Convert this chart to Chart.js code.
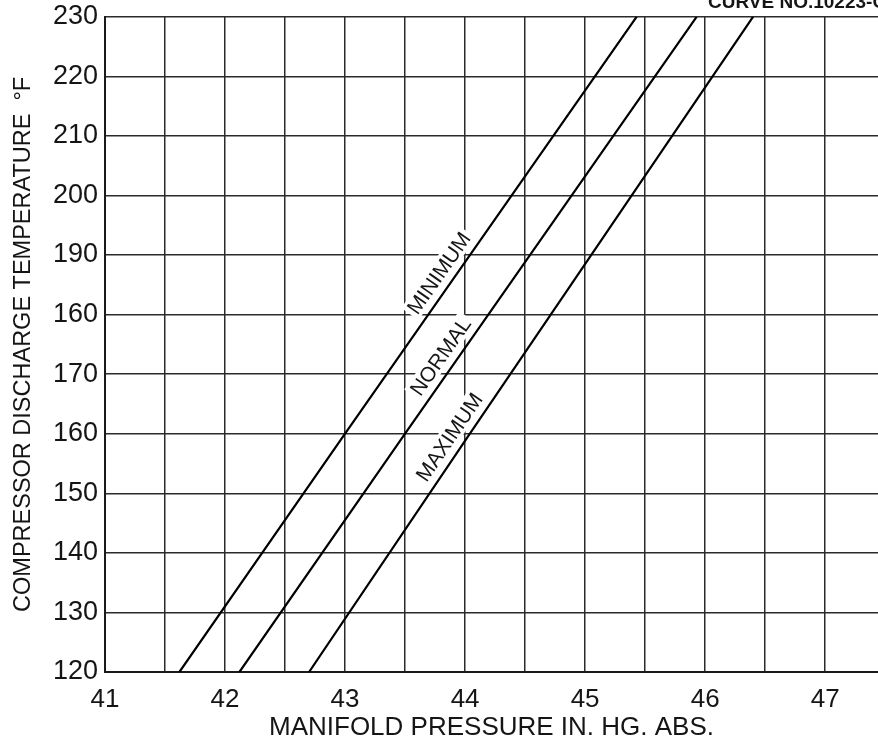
<!DOCTYPE html>
<html>
<head>
<meta charset="utf-8">
<script src="https://cdn.jsdelivr.net/npm/chart.js@4.4.1/dist/chart.umd.min.js"></script>
<style>
html,body{margin:0;padding:0;background:#fff;}
#wrap{width:878px;height:749px;position:relative;}
</style>
</head>
<body>
<div id="wrap"><canvas id="c" width="878" height="749"></canvas></div>
<script>
// ---- data ----
const seriesNames = ['MINIMUM', 'NORMAL', 'MAXIMUM'];
const minimumX = [41.62, 43.00, 45.43];
const minimumY = [120, 160, 230];
const normalX = [42.12, 43.50, 45.93];
const normalY = [120, 160, 230];
const maximumX = [42.70, 44.04, 46.40];
const maximumY = [120, 160, 230];
const labelAnchorY = [185.5, 171.5, 158];
const yTickLabels = ['120','130','140','150','160','170','160','190','200','210','220','230'];
const xTickLabels = ['41','42','43','44','45','46','47'];
const xTitle = 'MANIFOLD PRESSURE IN. HG. ABS.';
const yTitle = 'COMPRESSOR DISCHARGE TEMPERATURE  \u00B0F';
const curveNumber = 'CURVE NO.10223-C';

const FAMILY = '"Liberation Sans", Arial, Helvetica, sans-serif';
const INK = '#151515';

function toPoints(xs, ys) { return xs.map((x, i) => ({ x: x, y: ys[i] })); }
const seriesData = [toPoints(minimumX, minimumY), toPoints(normalX, normalY), toPoints(maximumX, maximumY)];

const curveLabelPlugin = {
  id: 'curveLabels',
  afterDatasetsDraw(chart) {
    const ctx = chart.ctx;
    const xs = chart.scales.x, ys = chart.scales.y;
    chart.data.datasets.forEach((ds, i) => {
      const pts = ds.data;
      const yv = labelAnchorY[i];
      let k = 0;
      while (k < pts.length - 2 && pts[k + 1].y < yv) k++;
      const a = pts[k], b = pts[k + 1];
      const t = (yv - a.y) / (b.y - a.y);
      const xv = a.x + t * (b.x - a.x);
      const px = xs.getPixelForValue(xv), py = ys.getPixelForValue(yv);
      const first = pts[0], last = pts[pts.length - 1];
      const dx = xs.getPixelForValue(last.x) - xs.getPixelForValue(first.x);
      const dy = ys.getPixelForValue(last.y) - ys.getPixelForValue(first.y);
      const len = Math.hypot(dx, dy);
      const ux = dx / len, uy = dy / len;
      const off = 15;
      const cx = px + uy * off, cy = py - ux * off;
      ctx.save();
      ctx.translate(cx, cy);
      ctx.rotate(Math.atan2(dy, dx));
      ctx.font = '21px ' + FAMILY;
      const text = ds.label;
      const w = ctx.measureText(text).width;
      ctx.fillStyle = '#fff';
      ctx.fillRect(-w / 2 - 3, -11, w + 6, 21);
      ctx.fillStyle = INK;
      ctx.textAlign = 'center';
      ctx.textBaseline = 'middle';
      ctx.fillText(text, 0, 1);
      ctx.restore();
    });
  },
  afterDraw(chart) {
    const ctx = chart.ctx;
    ctx.save();
    ctx.font = 'bold 19px ' + FAMILY;
    ctx.fillStyle = INK;
    ctx.textAlign = 'left';
    ctx.textBaseline = 'alphabetic';
    ctx.fillText(curveNumber, 708, 8);
    ctx.restore();
  }
};

const bgPlugin = {
  id: 'bg',
  beforeDraw(chart) {
    const ctx = chart.ctx;
    ctx.save();
    ctx.fillStyle = '#fff';
    ctx.fillRect(0, 0, chart.width, chart.height);
    ctx.restore();
  }
};

new Chart(document.getElementById('c'), {
  type: 'line',
  data: {
    datasets: seriesNames.map((name, i) => ({
      label: name,
      data: seriesData[i],
      borderColor: '#000',
      borderWidth: 2.2,
      pointRadius: 0,
      fill: false,
      tension: 0
    }))
  },
  options: {
    responsive: false,
    animation: false,
    devicePixelRatio: 1,
    layout: { padding: { top: 16.7, right: 0, bottom: 0, left: 0 } },
    plugins: {
      legend: { display: false },
      tooltip: { enabled: false }
    },
    scales: {
      x: {
        type: 'linear',
        min: 41,
        max: 47.44,
        ticks: {
          stepSize: 0.5,
          includeBounds: false,
          autoSkip: false,
          maxRotation: 0,
          padding: 12,
          color: INK,
          font: { size: 26, family: FAMILY },
          callback: (v) => {
            const idx = v - 41;
            return Number.isInteger(idx) && idx < xTickLabels.length ? xTickLabels[idx] : '';
          }
        },
        grid: { color: '#2b2b2b', lineWidth: 1.5, drawTicks: false },
        border: { color: '#1a1a1a', width: 2 },
        title: { display: true, text: xTitle, color: INK, font: { size: 26, family: FAMILY }, padding: { top: 0, bottom: 6 } },
        afterFit(s) { s.height = 77; }
      },
      y: {
        type: 'linear',
        min: 120,
        max: 230,
        ticks: {
          stepSize: 10,
          padding: 7,
          color: INK,
          font: { size: 27, family: FAMILY, lineHeight: 0.7 },
          callback: (v) => yTickLabels[Math.round((v - 120) / 10)]
        },
        grid: { color: '#2b2b2b', lineWidth: 1.5, drawTicks: false },
        border: { color: '#1a1a1a', width: 2 },
        title: { display: true, text: yTitle, color: INK, font: { size: 23.5, family: FAMILY }, padding: { top: 9, bottom: 0 } },
        afterFit(s) { s.width = 105; }
      }
    }
  },
  plugins: [bgPlugin, curveLabelPlugin]
});
</script>
</body>
</html>
